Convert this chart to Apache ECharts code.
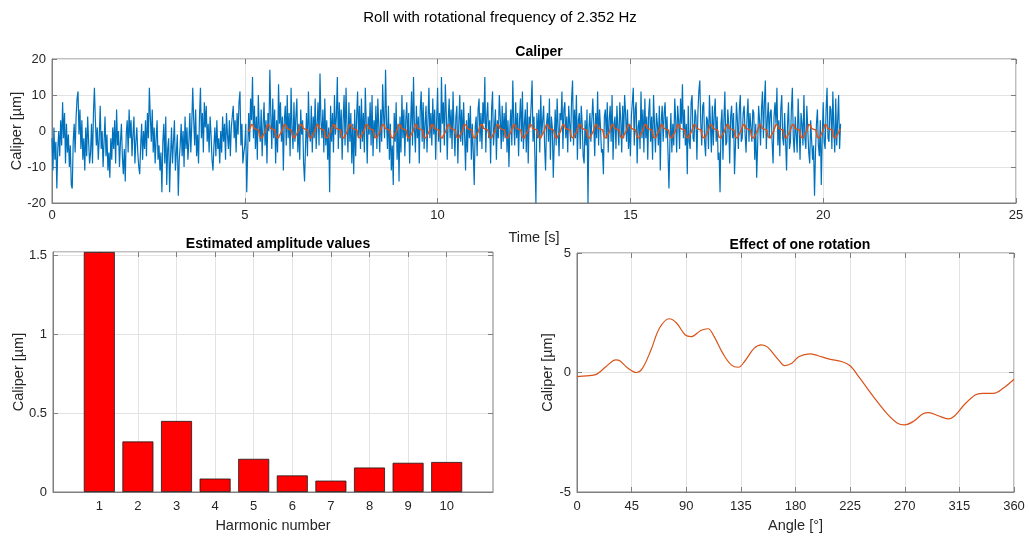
<!DOCTYPE html>
<html>
<head>
<meta charset="utf-8">
<script src="https://cdn.jsdelivr.net/npm/echarts@6/dist/echarts.min.js"></script>
<style>
  html, body { margin: 0; padding: 0; background: #fff; }
  #main { width: 1029px; height: 536px; }
</style>
</head>
<body>
<div id="main"></div>
<script>
// raw caliper signal, one value every 0.025 s from t = 0 (one row per second)
var sampleStep = 0.025;
var caliperRaw = [
  -2, -11, 1, -8, -3, -16, -5, 0, -7, 3, -4, 8, -2, 5, -9, 2, -6, -1, -10, -4, -15, -16, -3, 2, -6, 4, 9, 11, -1, 6, -5, 3, -8, -2, -11, 1, -7, 4, -3, -9,
  -6, 2, -9, 5, 12, 3, -4, 1, -8, -2, 7, -5, 0, -10, -3, 4, -7, -1, -11, -6, -13, -2, -8, 1, -5, 3, -9, 6, -4, 0, -10, -3, 2, -7, -12, -5, -14, -1, 3, -6,
  6, -2, 3, -7, -1, 4, -9, -3, 1, -6, -10, -12, -4, 2, -8, 0, -5, 3, -7, 5, -2, 12, 4, -3, 6, -6, 1, -9, -2, 3, -8, -4, -11, -6, -17, -3, 2, -9, 4, -15,
  -5, -2, -17, -7, 1, -9, -3, 3, -11, -6, -1, -18, -8, -4, 2, -7, 0, -10, 4, -5, 1, -8, -3, 5, -6, 2, 12, 3, -4, 6, -7, -1, -9, 4, 12, -2, 5, -6, 8, 1,
  7, -3, 2, -6, 4, -1, -8, -11, -4, 1, -7, 3, -5, -2, -9, 0, -6, 4, -3, 2, -8, 5, -1, -5, 3, -7, 1, 4, 7, -2, 3, -6, 5, -1, 8, 11, -4, 2, -9, -6,
  -4, 2, -17, -6, 5, -3, 9, 3, 15, -2, 7, -5, 4, -8, 10, 1, -3, 6, -7, 2, 8, -4, 3, -9, 5, 0, 17, 4, -5, 9, -2, 6, -9, 3, -6, 13, 2, 8, -3, 4,
  -11, 3, 7, -4, 10, -2, 5, -7, 12, 1, -5, 8, -3, 4, 9, -6, 2, -8, 6, -1, 3, -9, -14, -4, 5, -7, 11, 0, -3, 7, -6, 4, -2, 9, -5, 2, 8, -4, 16, 3,
  -2, 6, -6, 9, -4, 3, -8, 1, -17, 7, -3, 5, -6, 10, -1, 4, 15, -5, 8, -2, 6, -8, 3, 10, -4, 12, 1, -6, 8, -3, 5, -9, 2, -12, 6, -7, 4, 11, -2, 7,
  -5, 9, -3, 5, -6, 12, 2, -9, 4, -1, 8, -4, 10, -7, 3, -2, 7, -5, 9, 1, -6, 6, -3, 13, 4, -2, 17, 3, -5, 7, -8, 2, -11, -4, -15, 5, -3, 8, -8, 2,
  -14, 4, -6, 10, -2, 6, -7, 3, 8, -3, 5, -9, 2, 11, -4, 15, 1, -6, 7, -2, 4, -9, 6, 11, -3, 8, -5, 2, 7, -6, 3, 12, -2, 5, -4, 9, -1, 6, -8, 3,
  12, -3, 5, -6, 15, 2, 8, -4, 13, 5, -8, 3, 9, -2, 6, -5, 11, 1, -7, 4, 7, -9, 2, 10, -3, 6, -4, 8, -1, -11, 3, -6, 5, -2, 7, -8, 2, -6, -15, 1,
  4, -7, 6, 9, -3, 5, -5, 8, 2, 15, -6, 4, 8, -2, 3, -9, 6, 11, -4, 1, 6, -8, 3, -2, 10, 4, -5, 7, -3, 5, -2, 8, -6, 3, -10, 1, 6, -4, 14, 2,
  -4, 8, -2, 5, -7, 3, 9, -3, 11, -5, 2, 6, -6, 8, -9, 4, 1, 7, 14, -3, 4, -8, -20, 5, -2, 6, -6, 10, -1, 3, 7, -4, -11, 2, 5, -3, 9, -8, 4, 1,
  -13, -3, 6, -4, 9, 1, -7, 5, 3, 11, -5, 6, 8, -2, 4, -6, 7, 2, -3, 9, 14, -4, 6, -2, 10, -8, 3, 5, -5, 7, 2, -7, -9, 3, -4, 6, -20, 1, 5, -3,
  -3, 9, 2, -7, 5, -2, 11, -4, 6, 1, -6, -5, -12, 4, 6, -2, 8, -6, 3, 7, -3, 10, -8, 2, 4, -5, 7, 1, -4, 8, 3, -6, 7, -2, 10, 5, -3, 6, -5, 2,
  -7, 4, 8, 12, -4, 6, 8, -9, 1, 3, -5, 11, -2, 6, -6, 9, -2, 4, -8, 5, 9, -3, 4, -8, 10, 2, -6, 5, 2, -4, 7, -11, 3, 7, -3, 5, 8, -2, 4, -6,
  -16, -3, 5, -6, 2, -4, 9, 3, -6, 7, 3, -5, 9, 2, 13, -2, 6, -4, 2, -12, 7, -3, -5, 8, 10, -2, -3, 6, 4, -8, 5, 11, 14, 2, -4, 7, 8, -3, -7, 4,
  3, -5, 10, 2, -6, 7, -4, 5, 9, -3, 4, -8, -6, -17, 2, 6, -8, 3, 11, -4, -3, 6, 2, -9, 4, 7, -2, 5, -12, -4, 8, 3, -5, 6, 10, -3, -2, 5, 7, -1,
  -6, 4, 9, -3, 5, 1, -3, 6, 5, -8, 2, -13, -4, 7, 3, -4, 6, 11, -2, 8, 14, -5, 3, 8, -2, 5, 6, -3, -9, 4, 8, 2, 12, -4, 3, -7, 6, 10, -2, -4,
  5, -3, -11, 2, 8, -5, -3, 6, 12, -2, -6, 4, 4, -6, 9, 1, -8, 5, 2, -4, 10, -2, -5, 7, 7, -6, -9, 3, 3, -8, -4, -18, -6, 2, 6, -4, -7, 3, -15, -2,
  8, -3, -5, 6, 12, -2, -3, 7, 6, -5, 11, 1, -6, 9, -4, 3, 10, -5, 2
];

// effect of one rotation
var rotationAngle = [0, 8, 16, 24, 32, 35, 42, 49, 54, 61, 68, 76, 82, 89, 94, 102, 108, 113, 120, 127,
  133, 138, 146, 152, 157, 166, 171, 177, 183, 192, 198, 208, 218, 225, 233, 244, 255, 264, 270, 277,
  285, 290, 297, 306, 311, 319, 328, 334, 343, 351, 360];
var rotationCaliper = [-0.17, -0.14, -0.08, 0.25, 0.53, 0.5, 0.18, 0.0, 0.18, 0.95, 1.86, 2.25, 2.07, 1.58, 1.5, 1.76, 1.83, 1.5, 0.81, 0.32,
  0.22, 0.46, 1.02, 1.16, 1.06, 0.53, 0.29, 0.39, 0.67, 0.78, 0.71, 0.56, 0.46, 0.28, -0.24, -1.0, -1.7, -2.12, -2.19, -2.05,
  -1.73, -1.68, -1.8, -1.94, -1.82, -1.35, -0.94, -0.87, -0.87, -0.66, -0.28];
var rotationFreq = 2.352;
var fitStart = 5.09;
var fitEnd = 20.45;

// harmonic amplitudes
var harmonics = [1, 2, 3, 4, 5, 6, 7, 8, 9, 10];
var amplitude = [1.52, 0.32, 0.45, 0.085, 0.21, 0.105, 0.072, 0.155, 0.185, 0.19];

var blueData = caliperRaw.map(function (v, i) { return [+(i * sampleStep).toFixed(3), v]; });

// the rotation profile repeated once per revolution
var orangeData = [];
var period = 1 / rotationFreq;
for (var k = 0; fitStart + k * period < fitEnd; k++) {
  for (var j = 0; j < rotationAngle.length; j++) {
    var t = fitStart + (k + rotationAngle[j] / 360) * period;
    if (t <= fitEnd) orangeData.push([t, rotationCaliper[j]]);
  }
}

var barData = harmonics.map(function (h, i) { return [h, amplitude[i]]; });
var rotData = rotationAngle.map(function (a, i) { return [a, rotationCaliper[i]]; });

var font = "'Liberation Sans', Arial, sans-serif";
var txt = '#262626';
var boxColor = '#7f7f7f';
var gridColor = '#e3e3e3';

function mainAxis(extra) {
  var o = {
    type: 'value',
    axisLine: { show: true, onZero: false, lineStyle: { color: boxColor, width: 1 } },
    axisTick: { show: true, inside: true, length: 5, lineStyle: { color: boxColor } },
    axisLabel: { color: txt, fontFamily: font, fontSize: 13, margin: 6 },
    splitLine: { show: true, lineStyle: { color: gridColor, width: 1 } },
    nameLocation: 'middle',
    nameMoveOverlap: false,
    nameTextStyle: { color: txt, fontFamily: font, fontSize: 14.5 }
  };
  for (var key in extra) o[key] = extra[key];
  return o;
}
function mirrorAxis(extra) {
  var o = {
    type: 'value',
    axisLine: { show: false, onZero: false },
    axisTick: { show: true, inside: true, length: 5, lineStyle: { color: boxColor } },
    axisLabel: { show: false },
    splitLine: { show: false }
  };
  for (var key in extra) o[key] = extra[key];
  return o;
}
function box(left, top, width, height) {
  return { left: left, top: top, width: width, height: height, show: true,
    borderColor: boxColor, borderWidth: 1, backgroundColor: 'transparent',
    containLabel: false, outerBoundsMode: 'none' };
}

var myChart = echarts.init(document.getElementById('main'));

var option = {
  animation: false,
  backgroundColor: '#fff',
  title: [
    { text: 'Roll with rotational frequency of 2.352 Hz', left: 495, top: 5, textAlign: 'center',
      textStyle: { fontFamily: font, fontSize: 15, fontWeight: 'normal', color: '#000' } },
    { text: 'Caliper', left: 534, top: 40, textAlign: 'center',
      textStyle: { fontFamily: font, fontSize: 14, fontWeight: 'bold', color: '#000' } },
    { text: 'Estimated amplitude values', left: 273, top: 232, textAlign: 'center',
      textStyle: { fontFamily: font, fontSize: 14, fontWeight: 'bold', color: '#000' } },
    { text: 'Effect of one rotation', left: 795, top: 233, textAlign: 'center',
      textStyle: { fontFamily: font, fontSize: 14, fontWeight: 'bold', color: '#000' } }
  ],
  grid: [
    box(52, 59, 964, 144),
    box(53, 252, 440, 240),
    box(577, 253, 437, 239)
  ],
  xAxis: [
    mainAxis({ gridIndex: 0, min: 0, max: 25, interval: 5, name: 'Time [s]', nameGap: 27 }),
    mainAxis({ gridIndex: 1, min: -0.2, max: 11.2, name: 'Harmonic number', nameGap: 26,
      axisTick: { show: true, inside: true, length: 5, lineStyle: { color: boxColor }, customValues: harmonics },
      axisLabel: { color: txt, fontFamily: font, fontSize: 13, margin: 8, customValues: harmonics } }),
    mainAxis({ gridIndex: 2, min: 0, max: 360, interval: 45, name: 'Angle [°]', nameGap: 26,
      axisLabel: { color: txt, fontFamily: font, fontSize: 13, margin: 8 } }),
    mirrorAxis({ gridIndex: 0, position: 'top', min: 0, max: 25, interval: 5 }),
    mirrorAxis({ gridIndex: 1, position: 'top', min: -0.2, max: 11.2,
      axisTick: { show: true, inside: true, length: 5, lineStyle: { color: boxColor }, customValues: harmonics } }),
    mirrorAxis({ gridIndex: 2, position: 'top', min: 0, max: 360, interval: 45 })
  ],
  yAxis: [
    mainAxis({ gridIndex: 0, min: -20, max: 20, interval: 10, name: 'Caliper [µm]', nameGap: 28 }),
    mainAxis({ gridIndex: 1, min: 0, max: 1.52, interval: 0.5, name: 'Caliper [µm]', nameGap: 27,
      axisLabel: { color: txt, fontFamily: font, fontSize: 13, margin: 6, showMaxLabel: false } }),
    mainAxis({ gridIndex: 2, min: -5, max: 5, interval: 5, name: 'Caliper [µm]', nameGap: 22 }),
    mirrorAxis({ gridIndex: 0, position: 'right', min: -20, max: 20, interval: 10 }),
    mirrorAxis({ gridIndex: 1, position: 'right', min: 0, max: 1.52, interval: 0.5 }),
    mirrorAxis({ gridIndex: 2, position: 'right', min: -5, max: 5, interval: 5 })
  ],
  series: [
    {
      name: 'raw', type: 'line', xAxisIndex: 0, yAxisIndex: 0,
      data: blueData, showSymbol: false, sampling: null,
      lineStyle: { color: '#0072BD', width: 1.2 }
    },
    {
      name: 'rotation fit', type: 'line', xAxisIndex: 0, yAxisIndex: 0,
      data: orangeData, showSymbol: false,
      lineStyle: { color: '#D95319', width: 1.5 }
    },
    {
      name: 'amplitude', type: 'bar', xAxisIndex: 1, yAxisIndex: 1,
      data: barData, barWidth: 31,
      itemStyle: { color: '#ff0000', borderColor: '#1a1a1a', borderWidth: 0.8 }
    },
    {
      name: 'one rotation', type: 'line', xAxisIndex: 2, yAxisIndex: 2,
      data: rotData, showSymbol: false, smooth: 0.35,
      lineStyle: { color: '#D95319', width: 1.2 }
    }
  ]
};
myChart.setOption(option);
</script>
</body>
</html>
